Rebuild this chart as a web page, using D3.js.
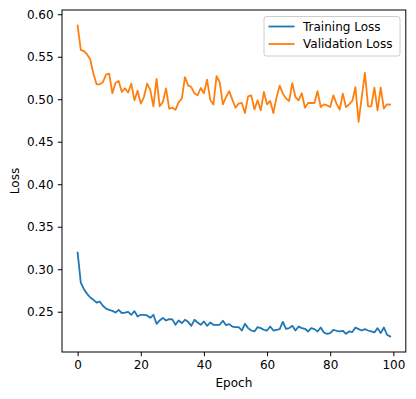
<!DOCTYPE html>
<html>
<head>
<meta charset="utf-8">
<script src="https://cdn.jsdelivr.net/npm/d3@7"></script>
<style>
  body { margin: 0; background: #fff; }
  svg { display: block; font-family: "DejaVu Sans", sans-serif; }
</style>
</head>
<body>
<div id="chart"></div>
<script>
// loss per epoch
const trainLoss = [
  0.3195, 0.2843, 0.2765, 0.2710, 0.2667, 0.2640, 0.2608, 0.2620, 0.2570, 0.2537,
  0.2522, 0.2510, 0.2490, 0.2522, 0.2483, 0.2490, 0.2499, 0.2464, 0.2507, 0.2444,
  0.2464, 0.2464, 0.2456, 0.2428, 0.2464, 0.2358, 0.2397, 0.2428, 0.2397, 0.2413,
  0.2410, 0.2346, 0.2397, 0.2366, 0.2405, 0.2381, 0.2334, 0.2405, 0.2373, 0.2346,
  0.2385, 0.2334, 0.2373, 0.2346, 0.2346, 0.2346, 0.2393, 0.2342, 0.2354, 0.2326,
  0.2319, 0.2319, 0.2279, 0.2358, 0.2307, 0.2279, 0.2268, 0.2319, 0.2307, 0.2287,
  0.2279, 0.2326, 0.2279, 0.2287, 0.2295, 0.2381, 0.2299, 0.2307, 0.2334, 0.2279,
  0.2326, 0.2307, 0.2299, 0.2268, 0.2307, 0.2295, 0.2268, 0.2315, 0.2256, 0.2240,
  0.2248, 0.2287, 0.2276, 0.2268, 0.2276, 0.2240, 0.2268, 0.2260, 0.2315, 0.2295,
  0.2279, 0.2295, 0.2279, 0.2268, 0.2256, 0.2307, 0.2248, 0.2315, 0.2229, 0.2209
];
const valLoss = [
  0.5867, 0.5580, 0.5566, 0.5527, 0.5468, 0.5300, 0.5175, 0.5175, 0.5200, 0.5290,
  0.5300, 0.5070, 0.5190, 0.5214, 0.5085, 0.5128, 0.5080, 0.5183, 0.4987, 0.5100,
  0.4948, 0.5026, 0.5183, 0.5110, 0.4917, 0.5240, 0.4917, 0.4967, 0.5128, 0.4890,
  0.4900, 0.4875, 0.4967, 0.5007, 0.5260, 0.5163, 0.5143, 0.5070, 0.5046, 0.5132,
  0.5070, 0.5230, 0.4995, 0.4937, 0.5273, 0.5200, 0.4940, 0.5026, 0.5096, 0.4995,
  0.4900, 0.4948, 0.4956, 0.4838, 0.5034, 0.5046, 0.4881, 0.4987, 0.4870, 0.5085,
  0.4940, 0.4980, 0.4838, 0.5019, 0.5160, 0.5066, 0.5010, 0.4980, 0.5190, 0.5026,
  0.4987, 0.5070, 0.4900, 0.4956, 0.4956, 0.4956, 0.5096, 0.4909, 0.4940, 0.4928,
  0.4909, 0.5046, 0.4948, 0.4878, 0.5066, 0.4909, 0.4940, 0.4980, 0.5143, 0.4733,
  0.5026, 0.5310, 0.4917, 0.4917, 0.5136, 0.4870, 0.5136, 0.4890, 0.4940, 0.4937
];
const seriesNames = ["Training Loss", "Validation Loss"];
const seriesColors = ["#1f77b4", "#ff7f0e"];
const xTicks = [0, 20, 40, 60, 80, 100];
const yTicks = [0.25, 0.30, 0.35, 0.40, 0.45, 0.50, 0.55, 0.60];

const width = 416, height = 399;
const margin = {top: 10, right: 10.2, bottom: 47, left: 62};
const fontSize = 12;

const svg = d3.select("#chart").append("svg")
  .attr("width", width)
  .attr("height", height);

const epochs = d3.range(trainLoss.length);
const series = [trainLoss, valLoss];

// matplotlib style 5% padding around the data
const xPad = (epochs.length - 1) * 0.05;
const x = d3.scaleLinear()
  .domain([-xPad, epochs.length - 1 + xPad])
  .range([margin.left, width - margin.right]);

const yMin = d3.min(series.flat()), yMax = d3.max(series.flat());
const yPad = (yMax - yMin) * 0.05;
const y = d3.scaleLinear()
  .domain([yMin - yPad, yMax + yPad])
  .range([height - margin.bottom, margin.top]);

const line = d3.line()
  .x((d, i) => x(i))
  .y(d => y(d));

svg.append("g")
  .selectAll("path")
  .data(series)
  .join("path")
    .attr("fill", "none")
    .attr("stroke", (d, i) => seriesColors[i])
    .attr("stroke-width", 1.8)
    .attr("stroke-linejoin", "round")
    .attr("stroke-linecap", "square")
    .attr("d", line);

// axes
const xAxis = svg.append("g")
  .attr("transform", `translate(0,${height - margin.bottom})`)
  .call(d3.axisBottom(x).tickValues(xTicks).tickSize(4.2).tickPadding(4.2).tickSizeOuter(0));

const yAxis = svg.append("g")
  .attr("transform", `translate(${margin.left},0)`)
  .call(d3.axisLeft(y).tickValues(yTicks).tickFormat(d3.format(".2f")).tickSize(4.2).tickPadding(4.2).tickSizeOuter(0));

[xAxis, yAxis].forEach(a => {
  a.select(".domain").remove();
  a.selectAll(".tick line").attr("stroke", "#000").attr("stroke-width", 1);
  a.selectAll(".tick text")
    .attr("fill", "#000")
    .style("font-family", "DejaVu Sans")
    .style("font-size", fontSize + "px");
});

// frame
svg.append("rect")
  .attr("x", margin.left)
  .attr("y", margin.top)
  .attr("width", width - margin.left - margin.right)
  .attr("height", height - margin.top - margin.bottom)
  .attr("fill", "none")
  .attr("stroke", "#000")
  .attr("stroke-width", 1);

// axis labels
svg.append("text")
  .attr("x", (margin.left + width - margin.right) / 2)
  .attr("y", 387)
  .attr("text-anchor", "middle")
  .style("font-size", fontSize + "px")
  .text("Epoch");

svg.append("text")
  .attr("transform", `translate(19,${(margin.top + height - margin.bottom) / 2}) rotate(-90)`)
  .attr("text-anchor", "middle")
  .style("font-size", fontSize + "px")
  .text("Loss");

// legend
const lg = svg.append("g").attr("transform", "translate(264,16.5)");
lg.append("rect")
  .attr("width", 136)
  .attr("height", 39.5)
  .attr("rx", 2.5)
  .attr("fill", "#fff")
  .attr("fill-opacity", 0.8)
  .attr("stroke", "#cccccc")
  .attr("stroke-width", 1);

const item = lg.selectAll("g.item")
  .data(seriesNames)
  .join("g")
    .attr("class", "item")
    .attr("transform", (d, i) => `translate(0,${10 + i * 17.5})`);

item.append("line")
  .attr("x1", 4.5).attr("x2", 30.5)
  .attr("stroke", (d, i) => seriesColors[i])
  .attr("stroke-width", 1.8);

item.append("text")
  .attr("x", 39)
  .attr("dy", "0.35em")
  .style("font-size", fontSize + "px")
  .text(d => d);
</script>
</body>
</html>
